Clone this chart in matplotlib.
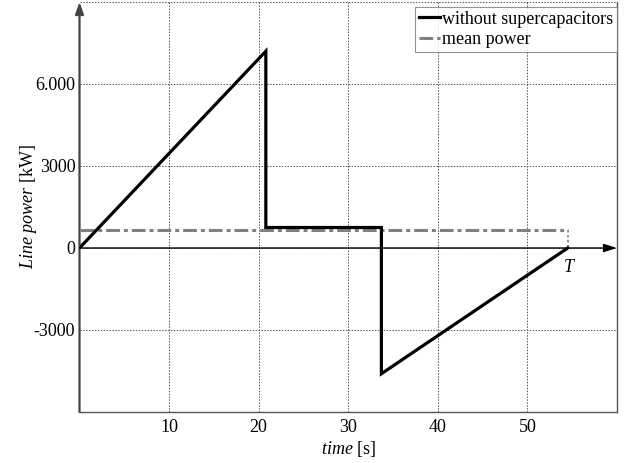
import matplotlib
matplotlib.use("Agg")
import matplotlib.pyplot as plt

# Data
time = [0, 20.8, 20.8, 33.7, 33.7, 54.5]
power = [0, 7200, 750, 750, -4600, 0]
mean_time = [0, 54.5]
mean_power = [670, 670]
T_end = 54.5

x_ticks = [10, 20, 30, 40, 50]
x_labels = ["10", "20", "30", "40", "50"]
y_ticks = [-6000, -3000, 0, 3000, 6000, 9000]
y_labels = ["", "-3000", "0", "3000", "6.000", ""]

plt.rcParams['font.family'] = ['Liberation Serif', 'DejaVu Serif']
plt.rcParams['mathtext.fontset'] = 'custom'
plt.rcParams['mathtext.it'] = 'Liberation Serif:italic'
plt.rcParams['mathtext.rm'] = 'Liberation Serif'

fs = 13
fig = plt.figure(figsize=(6.27, 4.63), dpi=100)
ax = fig.add_axes([79.5/627, 51/463, (617-79.5)/627, (412-2)/463])

ax.set_xlim(0, 60)
ax.set_ylim(-6000, 9000)

ax.set_xticks(x_ticks)
ax.set_xticklabels(x_labels, fontsize=fs)
ax.set_yticks(y_ticks)
ax.set_yticklabels(y_labels, fontsize=fs)
ax.tick_params(axis='both', length=0)
ax.tick_params(axis='x', pad=5)
ax.tick_params(axis='y', pad=3)
ax.grid(True, linestyle=(0, (1.5, 1.5)), color='#555555', linewidth=0.7)

for s in ['left', 'top']:
    ax.spines[s].set_visible(False)
for s in ['bottom', 'right']:
    ax.spines[s].set_color('#555555')
    ax.spines[s].set_linewidth(1.0)

# left axis with arrow
ax.annotate('', xy=(0, 1.0), xycoords='axes fraction', xytext=(0, 0),
            textcoords='axes fraction',
            arrowprops=dict(arrowstyle='-|>,head_length=0.7,head_width=0.25',
                            color='#444444', lw=1.6, shrinkA=0, shrinkB=0))
# zero line with arrow
ax.annotate('', xy=(60, 0), xycoords='data', xytext=(0, 0), textcoords='data',
            arrowprops=dict(arrowstyle='-|>,head_length=0.8,head_width=0.25',
                            color='black', lw=1.0, shrinkA=0, shrinkB=0))

ax.plot(mean_time, mean_power, color='#808080', lw=2.2,
        linestyle=(0, (4.5, 1.3, 1.3, 1.3)), label='mean power', zorder=3)
ax.plot([T_end, T_end], [mean_power[-1], 0], color='#808080', lw=1.2,
        linestyle=(0, (1.5, 1.5)), zorder=3)
ax.plot(time, power, color='black', lw=2.3, label='without supercapacitors',
        zorder=4, solid_joinstyle='miter')

ax.text(T_end + 0.2, -400, '$\\it{T}$', fontsize=fs, ha='center', va='top')

handles, labels = ax.get_legend_handles_labels()
leg = ax.legend(handles[::-1], labels[::-1], loc='upper right',
                bbox_to_anchor=(1.0, 0.988), fontsize=fs, frameon=True,
                fancybox=False, edgecolor='#777777', handlelength=1.2,
                handletextpad=0.1, borderpad=0.2, labelspacing=0.2,
                borderaxespad=0)
leg.get_frame().set_linewidth(0.8)

ax.set_xlabel('$\\mathit{time}$ [s]', fontsize=fs, labelpad=2)
ax.set_ylabel('$\\mathit{Line\\ power}$ [kW]', fontsize=fs, labelpad=-4)

fig.savefig('out.png', dpi=100)
